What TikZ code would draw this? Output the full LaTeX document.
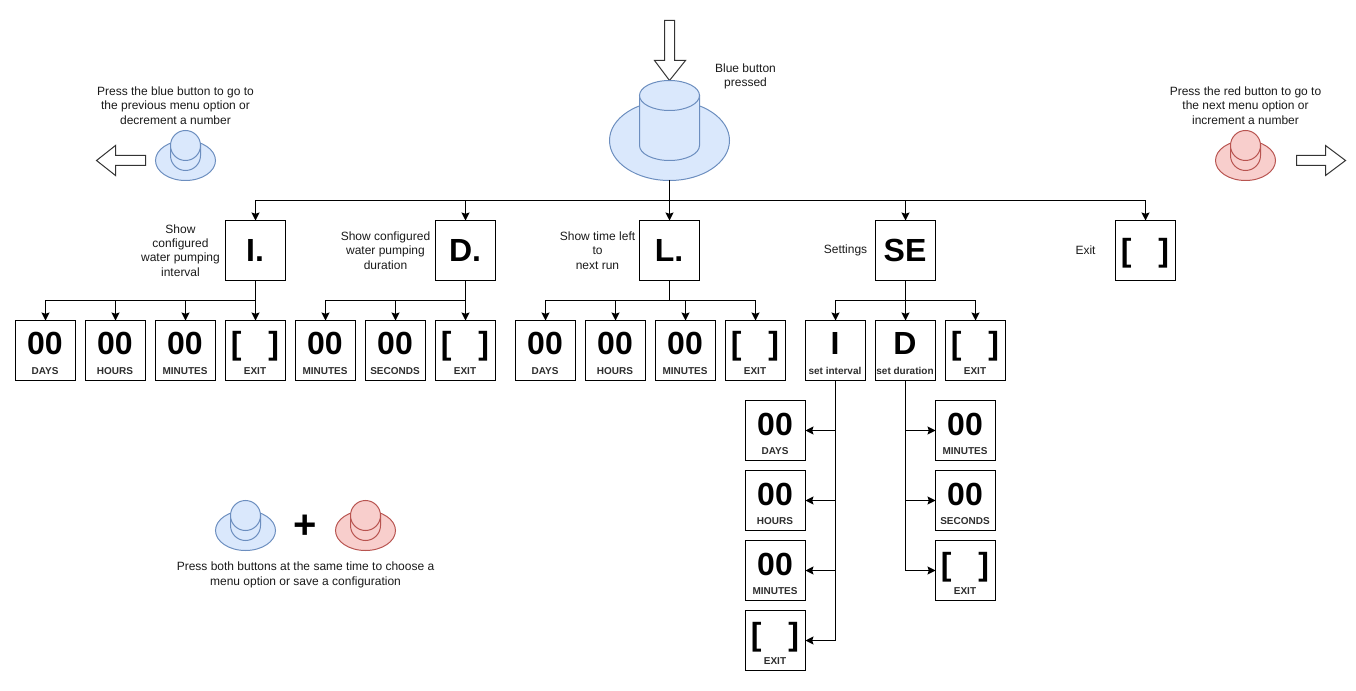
\documentclass[tikz,border=0pt]{standalone}
\usepackage{fontspec}
\setmainfont{Liberation Sans}
\usetikzlibrary{arrows.meta,shapes.geometric}
\definecolor{bluefill}{HTML}{DAE8FC}
\definecolor{bluestroke}{HTML}{6C8EBF}
\definecolor{redfill}{HTML}{F8CECC}
\definecolor{redstroke}{HTML}{B85450}
\definecolor{txtgrey}{HTML}{1A1A1A}
\definecolor{labgrey}{HTML}{2E2E2E}
\tikzset{
  box/.style={draw=black,line width=.75pt,minimum width=45pt,minimum height=45pt,inner sep=0pt,outer sep=0pt,fill=white},
  bigtext/.style={font=\fontsize{24}{28}\selectfont\bfseries,inner sep=0pt,anchor=base},
  smalltext/.style={font=\fontsize{7.5}{9}\selectfont\bfseries,inner sep=0pt,anchor=base,text=labgrey},
  note/.style={font=\fontsize{9}{10.8}\selectfont,align=center,inner sep=0pt,text=txtgrey},
  conn/.style={draw=black,line width=.75pt,-{Stealth[length=6pt,width=6pt,inset=1pt]}},
  blockarrow/.style={draw=black!80,line width=.75pt,fill=white,line join=miter},
  brim/.style={ellipse,draw,inner sep=0pt,outer sep=0pt},
}
% name, cx, top, big text, small text
\newcommand{\valbox}[5]{%
  \node[box] (#1) at (#2,#3+30) {};
  \node[bigtext] (#1big) at (#2-.5,#3+34.5) {#4};
  \node[smalltext] (#1lab) at (#2-.5,#3+54) {#5};
}
% name, cx, top, big text (top row)
\newcommand{\topbox}[4]{%
  \node[box] (#1) at (#2,#3+30) {};
  \node[bigtext] (#1big) at (#2-.5,#3+41.5) {#4};
}
\newcommand{\brk}{[\hspace{20.2pt}]}
% name, cx, top, fill, stroke, brim rx, brim ry, cyl rx, cyl ry (px)
\newcommand{\pushbtn}[9]{%
  \pgfmathsetmacro\brimW{2*#6*.75}%
  \pgfmathsetmacro\brimH{2*#7*.75}%
  \pgfmathsetmacro\cylRx{#8*.75}%
  \pgfmathsetmacro\cylRy{#9*.75}%
  \pgfmathsetmacro\brimCy{#3+(#9+\btnH+#9)-#7+\btnDrop}%
  \pgfmathsetmacro\cylTop{#3+#9}%
  \pgfmathsetmacro\cylBot{#3+#9+\btnH}%
  \node[brim,fill=#4,draw=#5,line width=.75pt,minimum width=\brimW pt,minimum height=\brimH pt] (#1) at (#2,\brimCy) {};
  \draw[fill=#4,draw=#5,line width=.75pt] (#2-#8,\cylTop) -- (#2-#8,\cylBot) arc[start angle=180,end angle=360,x radius=\cylRx pt,y radius=\cylRy pt] -- (#2+#8,\cylTop) -- cycle;
  \draw[fill=#4,draw=#5,line width=.75pt] (#2,\cylTop) ellipse[x radius=\cylRx pt,y radius=\cylRy pt];
}
\begin{document}
\begin{tikzpicture}[x=.75pt,y=-.75pt]
\path[use as bounding box] (-.5,-.5) rectangle (1355.5,690.5);
% block arrows
\draw[blockarrow] (664,20) -- (674,20) -- (674,60) -- (685,60) -- (669,80) -- (654,60) -- (664,60) -- cycle;
\draw[blockarrow] (145,155) -- (145,165) -- (115,165) -- (115,175) -- (96,160) -- (115,145) -- (115,155) -- cycle;
\draw[blockarrow] (1296,155) -- (1296,165) -- (1325,165) -- (1325,175) -- (1345,160) -- (1325,145) -- (1325,155) -- cycle;
% buttons
\def\btnH{50}\def\btnDrop{20}
\pushbtn{root}{669}{80}{bluefill}{bluestroke}{60}{40}{30}{15}
\def\btnH{10}\def\btnDrop{10}
\pushbtn{prevbtn}{185}{130}{bluefill}{bluestroke}{30}{20}{15}{15}
\pushbtn{nextbtn}{1245}{130}{redfill}{redstroke}{30}{20}{15}{15}
\pushbtn{bothblue}{245}{500}{bluefill}{bluestroke}{30}{20}{15}{15}
\pushbtn{bothred}{365}{500}{redfill}{redstroke}{30}{20}{15}{15}
\node[font=\fontsize{30}{34}\selectfont\bfseries,inner sep=0pt] (plus) at (305,526) {+};
% notes
\node[note] (n1) at (745,76) {Blue button\\pressed};
\node[note] (n2) at (175,105) {Press the blue button to go to\\the previous menu option or\\decrement a number};
\node[note] (n3) at (1245,105) {Press the red button to go to\\the next menu option or\\increment a number};
\node[note] (n4) at (180,250) {Show\\configured\\water pumping\\interval};
\node[note] (n5) at (385,250) {Show configured\\water pumping\\duration};
\node[note] (n6) at (597,250) {Show time left\\to\\next run};
\node[note] (n7) at (845,250) {Settings};
\node[note] (n8) at (1085,250) {Exit};
\node[note] (n9) at (305,574.5) {Press both buttons at the same time to choose a\\menu option or save a configuration};
% top row
\topbox{mi}{255}{220}{I.}
\topbox{md}{465}{220}{D.}
\topbox{ml}{669}{220}{L.}
\topbox{ms}{905}{220}{SE}
\topbox{mx}{1145}{220}{\brk}
% I. children
\valbox{a1}{45}{320}{00}{DAYS}
\valbox{a2}{115}{320}{00}{HOURS}
\valbox{a3}{185}{320}{00}{MINUTES}
\valbox{a4}{255}{320}{\brk}{EXIT}
% D. children
\valbox{b1}{325}{320}{00}{MINUTES}
\valbox{b2}{395}{320}{00}{SECONDS}
\valbox{b3}{465}{320}{\brk}{EXIT}
% L. children
\valbox{c1}{545}{320}{00}{DAYS}
\valbox{c2}{615}{320}{00}{HOURS}
\valbox{c3}{685}{320}{00}{MINUTES}
\valbox{c4}{755}{320}{\brk}{EXIT}
% SE children
\valbox{d1}{835}{320}{I}{set interval}
\valbox{d2}{905}{320}{D}{set duration}
\valbox{d3}{975}{320}{\brk}{EXIT}
% interval children
\valbox{e1}{775}{400}{00}{DAYS}
\valbox{e2}{775}{470}{00}{HOURS}
\valbox{e3}{775}{540}{00}{MINUTES}
\valbox{e4}{775}{610}{\brk}{EXIT}
% duration children
\valbox{f1}{965}{400}{00}{MINUTES}
\valbox{f2}{965}{470}{00}{SECONDS}
\valbox{f3}{965}{540}{\brk}{EXIT}
% connectors
\foreach \t in {mi,md,ml,ms,mx} \draw[conn] (root.south) -- ++(0,20) -| (\t.north);
\foreach \t in {a1,a2,a3,a4} \draw[conn] (mi.south) -- ++(0,20) -| (\t.north);
\foreach \t in {b1,b2,b3} \draw[conn] (md.south) -- ++(0,20) -| (\t.north);
\foreach \t in {c1,c2,c3,c4} \draw[conn] (ml.south) -- ++(0,20) -| (\t.north);
\foreach \t in {d1,d2,d3} \draw[conn] (ms.south) -- ++(0,20) -| (\t.north);
\foreach \t in {e1,e2,e3,e4} \draw[conn] (d1.south) |- (\t.east);
\foreach \t in {f1,f2,f3} \draw[conn] (d2.south) |- (\t.west);
\end{tikzpicture}
\end{document}
